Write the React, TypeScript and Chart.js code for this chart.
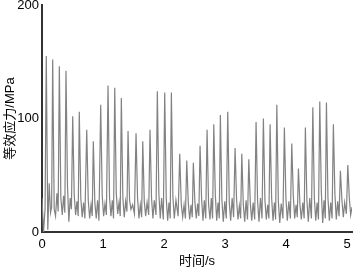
import React, { useEffect, useRef } from 'react';
import { Chart, registerables } from 'chart.js';

Chart.register(...registerables);

// Time samples (s)
const time: number[] = [
  0.000, 0.025, 0.050,
  0.070, 0.095, 0.118, 0.140, 0.158,
  0.175, 0.200, 0.222, 0.245, 0.265,
  0.284, 0.309, 0.332, 0.354, 0.374,
  0.393, 0.418, 0.440, 0.462, 0.482,
  0.503, 0.528, 0.551, 0.573, 0.593,
  0.611, 0.636, 0.659, 0.681, 0.703,
  0.733, 0.758, 0.781, 0.803, 0.823,
  0.841, 0.866, 0.889, 0.911, 0.933,
  0.962, 0.987, 1.010, 1.032, 1.055,
  1.082, 1.107, 1.130, 1.152, 1.172,
  1.192, 1.217, 1.240, 1.262, 1.282,
  1.300, 1.325, 1.348, 1.370, 1.392,
  1.410, 1.435, 1.458, 1.485, 1.515,
  1.541, 1.566, 1.589, 1.611, 1.633,
  1.651, 1.676, 1.699, 1.722, 1.748,
  1.770, 1.795, 1.818, 1.840, 1.868,
  1.890, 1.915, 1.938, 1.960, 1.988,
  2.011, 2.036, 2.059, 2.081, 2.101,
  2.120, 2.145, 2.168, 2.195, 2.230,
  2.257, 2.282, 2.305, 2.328, 2.350,
  2.372, 2.397, 2.420, 2.442, 2.462,
  2.480, 2.505, 2.528, 2.550, 2.570,
  2.590, 2.615, 2.638, 2.660, 2.683,
  2.705, 2.730, 2.753, 2.775, 2.795,
  2.815, 2.840, 2.863, 2.885, 2.905,
  2.923, 2.948, 2.971, 2.995, 3.020,
  3.044, 3.069, 3.092, 3.116, 3.140,
  3.164, 3.189, 3.212, 3.234, 3.255,
  3.274, 3.299, 3.322, 3.344, 3.368,
  3.389, 3.414, 3.437, 3.460, 3.485,
  3.508, 3.533, 3.556, 3.580, 3.605,
  3.628, 3.653, 3.676, 3.698, 3.718,
  3.738, 3.763, 3.786, 3.808, 3.828,
  3.848, 3.873, 3.896, 3.920, 3.948,
  3.972, 3.997, 4.020, 4.045, 4.070,
  4.093, 4.118, 4.141, 4.163, 4.183,
  4.202, 4.227, 4.250, 4.274, 4.296,
  4.316, 4.341, 4.364, 4.388, 4.415,
  4.438, 4.463, 4.486, 4.508, 4.530,
  4.552, 4.577, 4.600, 4.622, 4.642,
  4.661, 4.686, 4.709, 4.731, 4.753,
  4.775, 4.800, 4.823, 4.845, 4.868,
  4.890, 4.915, 4.938, 4.960, 4.988,
  5.011, 5.036, 5.058, 5.080,
];

// Equivalent stress (MPa)
const stress: number[] = [
  30, 0, 20,
  155, 2, 43, 17, 22,
  152, 20, 14, 34, 18,
  146, 30, 15, 32, 17,
  142, 40, 9, 30, 20,
  102, 33, 15, 27, 14,
  106, 30, 13, 26, 12,
  90, 28, 12, 24, 14,
  80, 26, 12, 28, 10,
  112, 32, 14, 25, 15,
  129, 30, 14, 28, 12,
  127, 34, 16, 26, 14,
  118, 30, 13, 27, 18,
  89, 28, 20, 24, 16,
  87, 30, 12, 24, 13,
  80, 27, 14, 26, 15,
  90, 30, 12, 28, 15,
  124, 34, 12, 30, 11,
  123, 30, 10, 26, 12,
  123, 31, 12, 28, 14,
  69, 25, 13, 24, 12,
  63, 26, 11, 24, 13,
  61, 27, 12, 25, 14,
  76, 30, 10, 28, 12,
  90, 24, 11, 30, 12,
  95, 33, 10, 26, 12,
  103, 28, 9, 27, 12,
  106, 26, 10, 30, 13,
  74, 28, 11, 23, 12,
  69, 24, 9, 28, 11,
  64, 25, 10, 26, 11,
  97, 27, 9, 30, 12,
  100, 28, 11, 24, 12,
  95, 30, 10, 26, 11,
  112, 27, 8, 25, 12,
  92, 30, 10, 27, 12,
  78, 32, 12, 24, 13,
  56, 24, 11, 26, 12,
  92, 28, 9, 30, 12,
  110, 30, 10, 26, 11,
  115, 36, 8, 28, 12,
  114, 30, 10, 26, 12,
  95, 33, 11, 27, 14,
  54, 28, 13, 26, 16,
  59, 30, 15, 22,
];

const xTicks = [0, 1, 2, 3, 4, 5];
const yTicks = [0, 100, 200];

const FONT = "'Liberation Sans', Arial, 'Noto Sans CJK SC', sans-serif";

export default function App() {
  const ref = useRef<HTMLCanvasElement>(null);
  useEffect(() => {
    document.body.style.margin = '0';
    const pts = time.map((t, i) => ({ x: t, y: stress[i] }));
    const chart = new Chart(ref.current!, {
      type: 'line',
      data: {
        datasets: [
          {
            data: pts,
            borderColor: '#828282',
            borderWidth: 1.2,
            pointRadius: 0,
            tension: 0,
          },
        ],
      },
      options: {
        animation: false,
        responsive: false,
        maintainAspectRatio: false,
        layout: { padding: { top: 5, right: 4, left: 0, bottom: 0 } },
        plugins: { legend: { display: false }, tooltip: { enabled: false } },
        scales: {
          x: {
            type: 'linear',
            min: 0,
            max: 5.08,
            afterBuildTicks: (s: any) => {
              s.ticks = xTicks.map((v) => ({ value: v }));
            },
            afterFit: (s: any) => {
              s.height = 37;
              s.paddingLeft = 0;
              s.paddingRight = 0;
            },
            grid: { display: false, drawTicks: false },
            border: { display: true, color: '#333333', width: 2 },
            ticks: {
              padding: 5,
              color: '#000',
              font: { family: FONT, size: 13 },
              maxRotation: 0,
              callback: (v: any) => String(v),
            },
            title: {
              display: true,
              text: '时间/s',
              color: '#000',
              font: { family: FONT, size: 13 },
              padding: { top: 0, bottom: 0 },
            },
          },
          y: {
            type: 'linear',
            min: 0,
            max: 200,
            afterBuildTicks: (s: any) => {
              s.ticks = yTicks.map((v) => ({ value: v }));
            },
            afterFit: (s: any) => {
              s.width = 42;
              s.paddingTop = 0;
              s.paddingBottom = 0;
            },
            grid: { display: false, drawTicks: false },
            border: { display: true, color: '#333333', width: 2 },
            ticks: {
              padding: 3,
              color: '#000',
              font: { family: FONT, size: 13 },
              callback: (v: any) => String(v),
            },
            title: {
              display: true,
              text: '等效应力/MPa',
              color: '#000',
              font: { family: FONT, size: 13 },
              padding: { top: 3, bottom: 0 },
            },
          },
        },
      },
    });
    return () => chart.destroy();
  }, []);
  return (
    <div style={{ width: 356, height: 269, position: 'relative' }}>
      <canvas ref={ref} width={356} height={269} style={{ display: 'block' }} />
    </div>
  );
}
